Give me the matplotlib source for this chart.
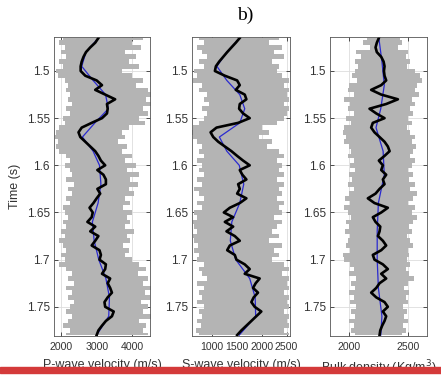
import numpy as np
import matplotlib.pyplot as plt
from matplotlib.ticker import FormatStrFormatter
from matplotlib.patches import Rectangle

plt.rcParams['font.family'] = ['Liberation Sans', 'DejaVu Sans']

# sampling times (s) of the envelopes and filtered logs
time = np.round(np.linspace(1.465, 1.78, 64), 3)

# P-wave velocity (m/s)
vp_min = [2050, 1950, 2100, 2000, 2150, 1950, 2050, 1850, 1900, 2100, 2200, 2150, 2250, 2200, 2300, 2150,
          2250, 2050, 2100, 1950, 1850, 1830, 1900, 1850, 1950, 2150, 2250, 2100, 2250, 2300, 2150, 2350,
          2200, 2300, 2150, 2250, 2050, 2100, 2200, 2050, 2150, 2000, 2100, 1950, 2050, 2150, 2000, 2100,
          1950, 2150, 2300, 2200, 2350, 2150, 2300, 2200, 2350, 2250, 2150, 2300, 2200, 2050, 2250, 2150]
vp_max = [4300, 4000, 4250, 3800, 4100, 3900, 4200, 3700, 4000, 4300, 4100, 4450, 4550, 4400, 4550, 4300,
          4450, 4200, 4350, 3900, 3700, 3800, 3600, 3850, 3700, 4000, 3800, 4100, 3850, 4200, 3950, 4150,
          3900, 4050, 3800, 3950, 3750, 4000, 3850, 3950, 3800, 4050, 3850, 3950, 3750, 3900, 3800, 4000,
          4200, 4400, 4150, 4450, 4300, 4550, 4350, 4500, 4250, 4450, 4300, 4550, 4200, 4400, 4300, 4450]
vp_est = [3050, 2960, 2820, 2700, 2630, 2580, 2550, 2550, 2680, 3000, 3150, 2960, 3240, 3520, 3290, 3310,
          3290, 3150, 2860, 2580, 2490, 2540, 2680, 2820, 2960, 3050, 3120, 3240, 3020, 3190, 3260, 3260,
          3020, 3100, 3000, 2910, 2800, 2890, 2860, 2740, 2960, 2820, 3050, 2960, 2860, 3080, 3120, 3080,
          3260, 3240, 3150, 3380, 3310, 3380, 3430, 3310, 3220, 3240, 3480, 3430, 3260, 3150, 3050, 3000]

# S-wave velocity (m/s)
vs_min = [750, 850, 700, 800, 900, 750, 850, 650, 700, 620, 800, 750, 900, 850, 950, 800,
          900, 850, 750, 620, 600, 620, 700, 800, 750, 850, 700, 800, 750, 850, 700, 800,
          650, 750, 850, 700, 800, 650, 700, 620, 650, 700, 620, 650, 720, 650, 750, 700,
          850, 750, 800, 900, 700, 850, 750, 800, 700, 850, 750, 800, 700, 780, 680, 750]
vs_max = [2350, 2150, 2400, 2250, 2450, 2200, 2350, 2300, 2400, 2550, 2450, 2550, 2500, 2550, 2450, 2550,
          2500, 2450, 2300, 2000, 2150, 1950, 2200, 2100, 2350, 2450, 2300, 2400, 2350, 2450, 2300, 2450,
          2350, 2400, 2300, 2450, 2350, 2400, 2250, 2400, 2300, 2200, 2350, 2150, 2400, 2250, 2350, 2200,
          2450, 2550, 2400, 2550, 2500, 2550, 2450, 2550, 2500, 2550, 2450, 2550, 2500, 2550, 2450, 2550]
vs_est = [1560, 1480, 1393, 1307, 1227, 1147, 1080, 1060, 1260, 1507, 1560, 1480, 1660, 1693, 1560, 1547,
          1627, 1760, 1527, 1093, 973, 1027, 1127, 1260, 1393, 1507, 1627, 1760, 1560, 1613, 1693, 1527,
          1560, 1507, 1693, 1560, 1360, 1240, 1427, 1260, 1427, 1293, 1460, 1560, 1360, 1307, 1460, 1493,
          1660, 1760, 1660, 1960, 1880, 1827, 1927, 1840, 1793, 1860, 1993, 1893, 1793, 1693, 1593, 1507]

# Bulk density (kg/m3)
rho_min = [2150, 2120, 2180, 2060, 2100, 2050, 2080, 2050, 2030, 2070, 2000, 1990, 2040, 1960, 2010, 1990,
           2040, 1980, 2020, 1960, 1950, 1980, 1960, 2000, 2020, 1990, 2040, 2010, 2050, 2000, 2030, 1990,
           2040, 2000, 1970, 2010, 1960, 1990, 2020, 1980, 2000, 1970, 2010, 1990, 1980, 2010, 1950, 1960,
           2010, 2040, 2000, 2060, 2020, 2050, 2000, 2040, 2010, 2060, 2020, 2050, 2000, 2040, 2020, 2050]
rho_max = [2430, 2450, 2420, 2500, 2480, 2520, 2490, 2560, 2600, 2620, 2580, 2560, 2590, 2530, 2560, 2520,
           2540, 2500, 2530, 2490, 2520, 2560, 2530, 2570, 2540, 2520, 2560, 2530, 2500, 2540, 2510, 2560,
           2520, 2580, 2540, 2500, 2560, 2530, 2580, 2540, 2510, 2530, 2490, 2520, 2540, 2500, 2510, 2490,
           2520, 2480, 2510, 2550, 2500, 2470, 2510, 2480, 2500, 2460, 2490, 2470, 2500, 2460, 2480, 2450]
rho_est = [2254, 2237, 2226, 2237, 2274, 2294, 2302, 2297, 2302, 2316, 2274, 2189, 2274, 2415, 2316, 2175,
           2232, 2302, 2203, 2189, 2217, 2260, 2302, 2330, 2345, 2302, 2254, 2288, 2274, 2316, 2288, 2302,
           2260, 2226, 2161, 2217, 2330, 2274, 2203, 2226, 2266, 2260, 2246, 2288, 2316, 2274, 2203, 2217,
           2288, 2330, 2274, 2316, 2260, 2232, 2189, 2232, 2302, 2330, 2288, 2316, 2302, 2282, 2266, 2260]

# low-frequency trends
vp_trend_t = [1.465, 1.48, 1.495, 1.51, 1.525, 1.54, 1.555, 1.57, 1.585, 1.60, 1.62, 1.64, 1.66, 1.68, 1.70, 1.72, 1.74, 1.76, 1.78]
vp_trend = [3050, 2700, 2580, 2900, 3250, 3330, 2950, 2600, 2900, 3080, 3120, 3040, 2880, 2930, 3060, 3260, 3360, 3340, 3000]
vs_trend_t = vp_trend_t
vs_trend = [1560, 1300, 1100, 1300, 1560, 1660, 1560, 1150, 1300, 1550, 1640, 1560, 1400, 1370, 1480, 1760, 1870, 1880, 1550]
rho_trend_t = [1.465, 1.49, 1.515, 1.54, 1.56, 1.585, 1.61, 1.64, 1.67, 1.70, 1.73, 1.76, 1.78]
rho_trend = [2254, 2280, 2300, 2270, 2230, 2290, 2300, 2250, 2240, 2240, 2250, 2280, 2270]

panels = [
    (vp_min, vp_max, vp_est, vp_trend_t, vp_trend, (1800, 4500), [2000, 3000, 4000], 'P-wave velocity (m/s)'),
    (vs_min, vs_max, vs_est, vs_trend_t, vs_trend, (600, 2570), [1000, 1500, 2000, 2500], 'S-wave velocity (m/s)'),
    (rho_min, rho_max, rho_est, rho_trend_t, rho_trend, (1840, 2660), [2000, 2500], 'Bulk density (Kg/m$^3$)'),
]
lefts = [0.1224, 0.4354, 0.748]
widths = [0.2177, 0.2222, 0.22]

fig = plt.figure(figsize=(4.41, 3.78), dpi=100)
for i, (lo, hi, est, tt, tr, xl, xt, lab) in enumerate(panels):
    ax = fig.add_axes([lefts[i], 0.111, widths[i], 0.791])
    ax.fill_betweenx(time, lo, hi, step='mid', color='#b4b4b4', lw=0)
    ax.plot(tr, tt, color='#2a2ad0', lw=0.9)
    ax.plot(est, time, color='black', lw=1.9)
    ax.set_xlim(*xl)
    ax.set_ylim(1.781, 1.464)
    ax.set_xticks(xt)
    ax.set_yticks([1.5, 1.55, 1.6, 1.65, 1.7, 1.75])
    ax.yaxis.set_major_formatter(FormatStrFormatter('%g'))
    ax.grid(True, color='#dddddd', lw=0.6)
    ax.set_axisbelow(True)
    ax.tick_params(direction='in', length=3, width=0.6, labelsize=8.5, colors='#333333',
                   top=True, right=True, pad=3)
    ax.tick_params(axis='x', labelsize=7.6, pad=4)
    for s in ax.spines.values():
        s.set_color('#555555')
        s.set_linewidth(0.6)
    ax.set_xlabel(lab, fontsize=9, color='#333333', labelpad=5)
    if i == 0:
        ax.set_ylabel('Time (s)', fontsize=9, color='#333333', labelpad=4)

fig.text(0.555, 0.96, 'b)', ha='center', va='center', fontsize=14, family='Liberation Serif')
fig.add_artist(Rectangle((0, 0.013), 1, 0.016, transform=fig.transFigure, color='#d43a3a', zorder=10))
fig.savefig('out.png', dpi=100)
